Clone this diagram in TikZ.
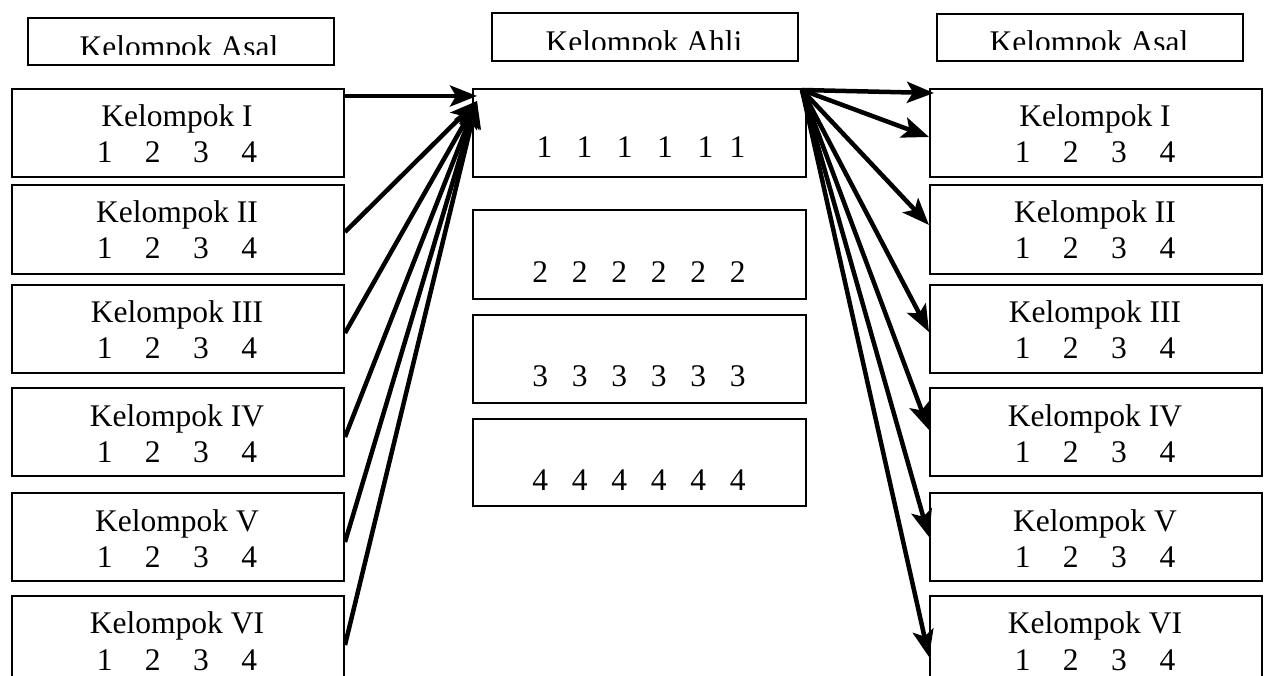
\documentclass[tikz,border=0pt]{standalone}
\usepackage{fontspec}
\setmainfont{Liberation Serif}
\usetikzlibrary{arrows.meta,calc}
\newcommand\dgts{1\hspace{32.5pt}2\hspace{32.5pt}3\hspace{32.5pt}4}
\begin{document}
\begin{tikzpicture}[x=1pt,y=-1pt,
  box/.style={draw,line width=2pt,inner sep=0pt,anchor=north west},
  txt/.style={inner sep=0pt,anchor=base,font=\fontsize{31.5}{37}\selectfont},
  arr/.style={line width=4.5pt,-{Stealth[length=27pt,width=21pt,inset=6pt]}}]
\useasboundingbox (0,0) rectangle (1264,676);
\fill[white] (0,0) rectangle (1264,676);

% headers
\node[box,minimum width=306pt,minimum height=47pt] (hL) at (27,17) {};
\node[box,minimum width=306pt,minimum height=48pt] (hM) at (491,12) {};
\node[box,minimum width=306pt,minimum height=47pt] (hR) at (936,13) {};
\begin{scope}
\clip (27,17) rectangle (333,55);
\node[txt] (hLt) at (179,58) {Kelompok Asal};
\end{scope}
\begin{scope}
\clip (491,12) rectangle (797,50);
\node[txt] (hMt) at (644,52.5) {Kelompok Ahli};
\end{scope}
\begin{scope}
\clip (936,13) rectangle (1242,50);
\node[txt] (hRt) at (1089,53) {Kelompok Asal};
\end{scope}

% left boxes
\node[box,minimum width=332pt,minimum height=88pt] (L1) at (11,88) {};
\node[box,minimum width=332pt,minimum height=89pt] (L2) at (11,184) {};
\node[box,minimum width=332pt,minimum height=88pt] (L3) at (11,284) {};
\node[box,minimum width=332pt,minimum height=88pt] (L4) at (11,387) {};
\node[box,minimum width=332pt,minimum height=88pt] (L5) at (11,492) {};
\node[box,minimum width=332pt,minimum height=100pt] (L6) at (11,595) {};
% right boxes
\node[box,minimum width=332pt,minimum height=88pt] (R1) at (929,88) {};
\node[box,minimum width=332pt,minimum height=89pt] (R2) at (929,184) {};
\node[box,minimum width=332pt,minimum height=88pt] (R3) at (929,284) {};
\node[box,minimum width=332pt,minimum height=88pt] (R4) at (929,387) {};
\node[box,minimum width=332pt,minimum height=88pt] (R5) at (929,492) {};
\node[box,minimum width=332pt,minimum height=100pt] (R6) at (929,595) {};
% middle boxes
\node[box,minimum width=333pt,minimum height=88pt] (M1) at (472,88) {};
\node[box,minimum width=333pt,minimum height=89pt] (M2) at (472,209) {};
\node[box,minimum width=333pt,minimum height=88pt] (M3) at (472,314) {};
\node[box,minimum width=333pt,minimum height=87pt] (M4) at (472,418) {};

% texts left
\node[txt] (L1a) at (177,127) {Kelompok I};   \node[txt] (L1b) at (177,163) {\dgts};
\node[txt] (L2a) at (177,223) {Kelompok II};  \node[txt] (L2b) at (177,259) {\dgts};
\node[txt] (L3a) at (177,323) {Kelompok III}; \node[txt] (L3b) at (177,359) {\dgts};
\node[txt] (L4a) at (177,426) {Kelompok IV};  \node[txt] (L4b) at (177,462) {\dgts};
\node[txt] (L5a) at (177,531) {Kelompok V};   \node[txt] (L5b) at (177,567) {\dgts};
\node[txt] (L6a) at (177,633) {Kelompok VI};  \node[txt] (L6b) at (177,670) {\dgts};
% texts right
\node[txt] (R1a) at (1095,127) {Kelompok I};   \node[txt] (R1b) at (1095,163) {\dgts};
\node[txt] (R2a) at (1095,223) {Kelompok II};  \node[txt] (R2b) at (1095,259) {\dgts};
\node[txt] (R3a) at (1095,323) {Kelompok III}; \node[txt] (R3b) at (1095,359) {\dgts};
\node[txt] (R4a) at (1095,426) {Kelompok IV};  \node[txt] (R4b) at (1095,462) {\dgts};
\node[txt] (R5a) at (1095,531) {Kelompok V};   \node[txt] (R5b) at (1095,567) {\dgts};
\node[txt] (R6a) at (1095,633) {Kelompok VI};  \node[txt] (R6b) at (1095,670) {\dgts};
% texts middle
\node[txt] (M1t) at (641,158) {1\hspace{24.5pt}1\hspace{24.5pt}1\hspace{24.5pt}1\hspace{24.5pt}1\hspace{16.5pt}1};
\node[txt] (M2t) at (639,283) {2\hspace{23.8pt}2\hspace{23.8pt}2\hspace{23.8pt}2\hspace{23.8pt}2\hspace{23.8pt}2};
\node[txt] (M3t) at (639,386) {3\hspace{23.8pt}3\hspace{23.8pt}3\hspace{23.8pt}3\hspace{23.8pt}3\hspace{23.8pt}3};
\node[txt] (M4t) at (639,490) {4\hspace{23.8pt}4\hspace{23.8pt}4\hspace{23.8pt}4\hspace{23.8pt}4\hspace{23.8pt}4};

% arrows left -> middle
\coordinate (tL1) at (477,96);
\coordinate (tL) at (477,101);
\draw[arr] ([yshift=-8pt]L1.north east) -- (tL1);
\draw[arr] ([yshift=-48pt]L2.north east) -- (tL);
\draw[arr] ([yshift=-49pt]L3.north east) -- (tL);
\draw[arr] ([yshift=-50pt]L4.north east) -- (tL);
\draw[arr] ([yshift=-50pt]L5.north east) -- (tL);
\draw[arr] ([yshift=-50pt]L6.north east) -- (tL);

% arrows middle -> right
\coordinate (sR) at (802,90);
\draw[arr] (sR) -- ([xshift=5pt,yshift=-5pt]R1.north west);
\draw[arr] (sR) -- ([yshift=-49pt]R1.north west);
\draw[arr] (sR) -- ([yshift=-41pt]R2.north west);
\draw[arr] (sR) -- ([yshift=-48pt]R3.north west);
\draw[arr] (sR) -- ([yshift=-43pt]R4.north west);
\draw[arr] (sR) -- ([yshift=-45pt]R5.north west);
\draw[arr] (sR) -- ([yshift=-62pt]R6.north west);
\end{tikzpicture}
\end{document}
